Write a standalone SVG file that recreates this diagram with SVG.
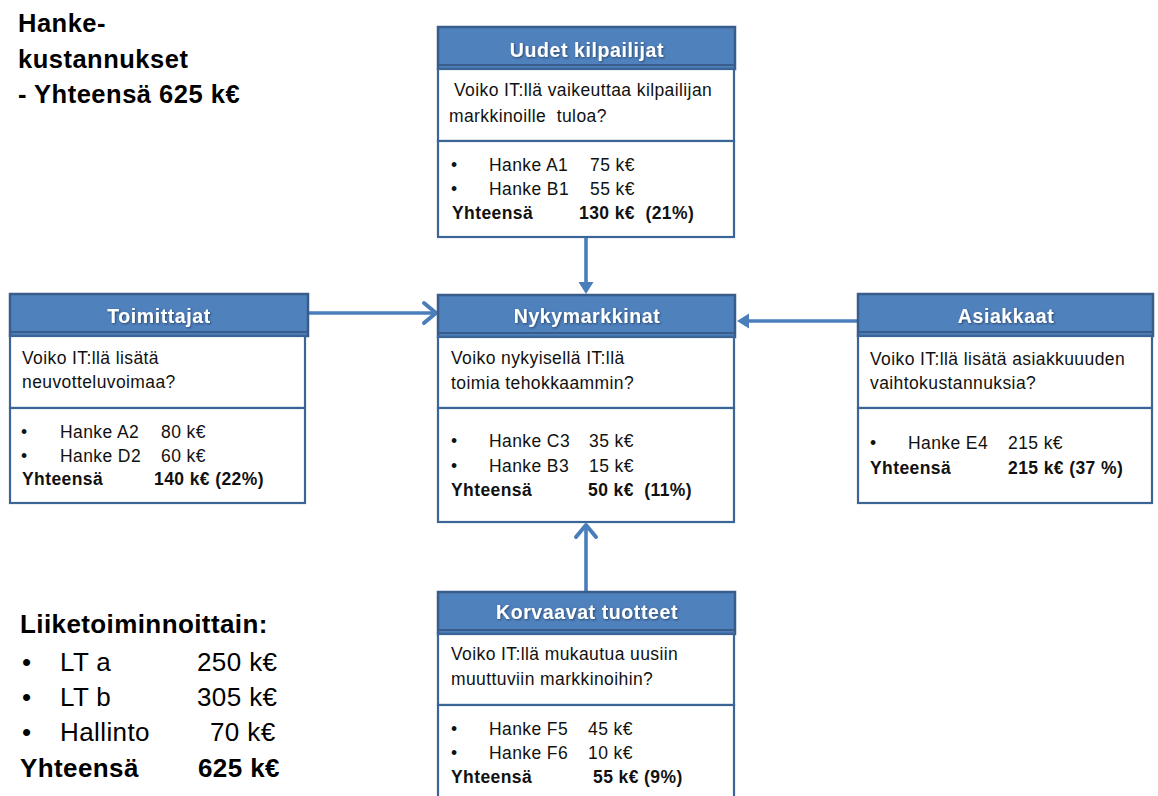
<svg xmlns="http://www.w3.org/2000/svg" width="1158" height="796" viewBox="0 0 1158 796">
  <style>
    .hdr { fill: #4f81bd; stroke: #385d8a; stroke-width: 2.5; }
    .hdrline { stroke: #385d8a; stroke-width: 2; }
    .box { fill: #ffffff; stroke: #3b6497; stroke-width: 2.2; }
    .htxt { font-family: "Liberation Sans", Arial, sans-serif; font-weight: bold; font-size: 19.5px; letter-spacing: 0.6px; fill: #ffffff; text-anchor: middle; filter: url(#shadow); }
    .t { font-family: "Liberation Sans", Arial, sans-serif; font-size: 17.5px; letter-spacing: 0.4px; fill: #111111; white-space: pre; }
    .b { font-weight: bold; }
    .title { font-family: "Liberation Sans", Arial, sans-serif; font-weight: bold; font-size: 25.5px; letter-spacing: 0.5px; fill: #000000; }
    .side { font-family: "Liberation Sans", Arial, sans-serif; font-size: 26px; letter-spacing: 0.4px; fill: #000000; }
    .conn { fill: none; stroke: #4a7ebb; stroke-width: 3.6; }
  </style>
  <defs>
    <filter id="shadow" x="-10%" y="-30%" width="120%" height="160%">
      <feDropShadow dx="1" dy="1" stdDeviation="0.8" flood-color="#000000" flood-opacity="0.45"/>
    </filter>
    <marker id="headFilled" markerUnits="userSpaceOnUse" viewBox="-1 -9 15 18" markerWidth="15" markerHeight="18" refX="0" refY="0" orient="auto">
      <path d="M0,-7.5 L12,0 L0,7.5 Z" fill="#4a7ebb"/>
    </marker>
    <marker id="headOpen" markerUnits="userSpaceOnUse" viewBox="-16 -14 20 28" markerWidth="20" markerHeight="28" refX="0" refY="0" orient="auto">
      <path d="M-12,-10 L0,0 L-12,10" fill="none" stroke="#4a7ebb" stroke-width="4" stroke-linecap="round" stroke-linejoin="round"/>
    </marker>
  </defs>

  <!-- Overall title -->
  <g id="title">
    <text class="title" x="18" y="32">Hanke-</text>
    <text class="title" x="18" y="68">kustannukset</text>
    <text class="title" x="18" y="103">- Yhteensä 625 k€</text>
  </g>

  <!-- Totals per business unit -->
  <g id="liiketoiminnoittain">
    <text class="side" x="20" y="633" font-weight="bold">Liiketoiminnoittain:</text>
    <text class="side" x="22" y="671">•</text>
    <text class="side" x="60" y="671">LT a</text>
    <text class="side" x="197" y="671">250 k€</text>
    <text class="side" x="22" y="706">•</text>
    <text class="side" x="60" y="706">LT b</text>
    <text class="side" x="197" y="706">305 k€</text>
    <text class="side" x="22" y="741">•</text>
    <text class="side" x="60" y="741">Hallinto</text>
    <text class="side" x="210" y="741">70 k€</text>
    <text class="side" x="20" y="777" font-weight="bold">Yhteensä</text>
    <text class="side" x="198" y="777" font-weight="bold">625 k€</text>
  </g>

  <!-- Connectors -->
  <g id="connectors">
    <path class="conn" d="M586,237 V282" marker-end="url(#headFilled)"/>
    <path class="conn" d="M308,313 H436" marker-end="url(#headOpen)"/>
    <path class="conn" d="M858,321 H749" marker-end="url(#headFilled)"/>
    <path class="conn" d="M586,592 V525" marker-end="url(#headOpen)"/>
  </g>

  <!-- Uudet kilpailijat -->
  <g id="uudet-kilpailijat">
    <rect class="hdr" x="438" y="27" width="297" height="42"/>
    <line class="hdrline" x1="438" y1="65" x2="735" y2="65"/>
    <rect class="box" x="438" y="69" width="296" height="72"/>
    <rect class="box" x="438" y="141" width="296" height="96"/>
    <text class="htxt" x="587" y="57">Uudet kilpailijat</text>
    <text class="t" x="454" y="96">Voiko IT:llä vaikeuttaa kilpailijan</text>
    <text class="t" x="449" y="122">markkinoille  tuloa?</text>
    <text class="t" x="451" y="171">•</text>
    <text class="t" x="489" y="171">Hanke A1</text>
    <text class="t" x="590" y="171">75 k€</text>
    <text class="t" x="451" y="195">•</text>
    <text class="t" x="489" y="195">Hanke B1</text>
    <text class="t" x="590" y="195">55 k€</text>
    <text class="t b" x="452" y="219">Yhteensä</text>
    <text class="t b" x="579" y="219">130 k€  (21%)</text>
  </g>

  <!-- Toimittajat -->
  <g id="toimittajat">
    <rect class="hdr" x="10" y="294" width="298" height="42"/>
    <line class="hdrline" x1="10" y1="332" x2="308" y2="332"/>
    <rect class="box" x="10" y="336" width="295" height="72"/>
    <rect class="box" x="10" y="408" width="295" height="95"/>
    <text class="htxt" x="159" y="323">Toimittajat</text>
    <text class="t" x="22" y="364">Voiko IT:llä lisätä</text>
    <text class="t" x="22" y="388">neuvotteluvoimaa?</text>
    <text class="t" x="21" y="438">•</text>
    <text class="t" x="60" y="438">Hanke A2</text>
    <text class="t" x="161" y="438">80 k€</text>
    <text class="t" x="21" y="462">•</text>
    <text class="t" x="60" y="462">Hanke D2</text>
    <text class="t" x="161" y="462">60 k€</text>
    <text class="t b" x="22" y="485">Yhteensä</text>
    <text class="t b" x="154" y="485">140 k€ (22%)</text>
  </g>

  <!-- Nykymarkkinat -->
  <g id="nykymarkkinat">
    <rect class="hdr" x="438" y="295" width="297" height="42"/>
    <line class="hdrline" x1="438" y1="333" x2="735" y2="333"/>
    <rect class="box" x="438" y="337" width="296" height="71"/>
    <rect class="box" x="438" y="408" width="296" height="114"/>
    <text class="htxt" x="587" y="323">Nykymarkkinat</text>
    <text class="t" x="451" y="364">Voiko nykyisellä IT:llä</text>
    <text class="t" x="451" y="389">toimia tehokkaammin?</text>
    <text class="t" x="451" y="447">•</text>
    <text class="t" x="489" y="447">Hanke C3</text>
    <text class="t" x="589" y="447">35 k€</text>
    <text class="t" x="451" y="472">•</text>
    <text class="t" x="489" y="472">Hanke B3</text>
    <text class="t" x="589" y="472">15 k€</text>
    <text class="t b" x="451" y="496">Yhteensä</text>
    <text class="t b" x="588" y="496">50 k€  (11%)</text>
  </g>

  <!-- Asiakkaat -->
  <g id="asiakkaat">
    <rect class="hdr" x="858" y="294" width="295" height="42"/>
    <line class="hdrline" x1="858" y1="332" x2="1153" y2="332"/>
    <rect class="box" x="858" y="336" width="294" height="72"/>
    <rect class="box" x="858" y="408" width="294" height="95"/>
    <text class="htxt" x="1006" y="323">Asiakkaat</text>
    <text class="t" x="870" y="365">Voiko IT:llä lisätä asiakkuuuden</text>
    <text class="t" x="870" y="389">vaihtokustannuksia?</text>
    <text class="t" x="870" y="449">•</text>
    <text class="t" x="908" y="449">Hanke E4</text>
    <text class="t" x="1008" y="449">215 k€</text>
    <text class="t b" x="870" y="474">Yhteensä</text>
    <text class="t b" x="1008" y="474">215 k€ (37 %)</text>
  </g>

  <!-- Korvaavat tuotteet -->
  <g id="korvaavat-tuotteet">
    <rect class="hdr" x="438" y="592" width="297" height="42"/>
    <line class="hdrline" x1="438" y1="630" x2="735" y2="630"/>
    <rect class="box" x="438" y="634" width="296" height="71"/>
    <rect class="box" x="438" y="705" width="296" height="100"/>
    <text class="htxt" x="587" y="619">Korvaavat tuotteet</text>
    <text class="t" x="451" y="660">Voiko IT:llä mukautua uusiin</text>
    <text class="t" x="451" y="685">muuttuviin markkinoihin?</text>
    <text class="t" x="451" y="735">•</text>
    <text class="t" x="489" y="735">Hanke F5</text>
    <text class="t" x="588" y="735">45 k€</text>
    <text class="t" x="451" y="759">•</text>
    <text class="t" x="489" y="759">Hanke F6</text>
    <text class="t" x="588" y="759">10 k€</text>
    <text class="t b" x="451" y="783">Yhteensä</text>
    <text class="t b" x="593" y="783">55 k€ (9%)</text>
  </g>
</svg>
